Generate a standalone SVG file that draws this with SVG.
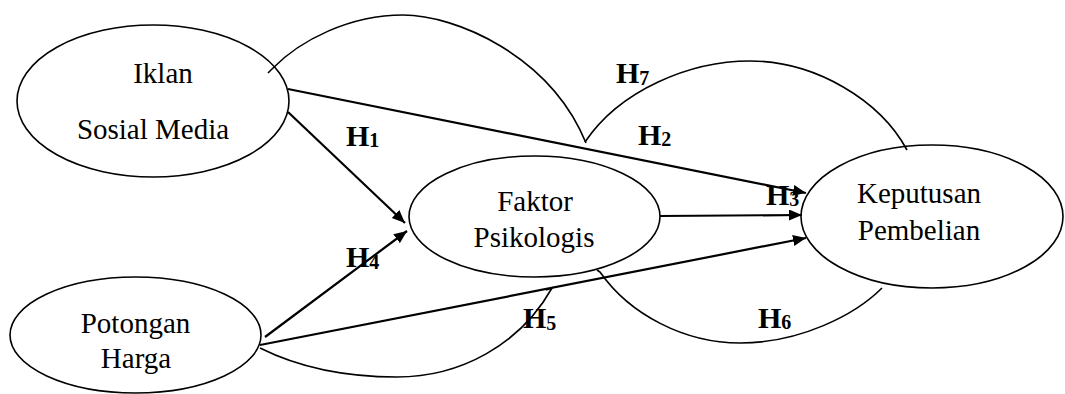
<svg xmlns="http://www.w3.org/2000/svg" width="1065" height="394" viewBox="0 0 1065 394">
<style>
.node{fill:#fff;stroke:#000;stroke-width:1.6}
.lbl{font-size:29px;fill:#000}
.arr{stroke:#000;stroke-width:2.2;fill:none;marker-end:url(#ah)}
.arc{stroke:#000;stroke-width:1.6;fill:none}
.h{font-size:30px;font-weight:bold;fill:#000}
.s{font-size:20px}
</style>
<defs>
<marker id="ah" markerUnits="userSpaceOnUse" markerWidth="14" markerHeight="12" refX="13" refY="5.5" orient="auto">
<path d="M0,0 L13,5.5 L0,11 z" fill="#000"/>
</marker>
</defs>
<rect width="1065" height="394" fill="#fff"/>
<g id="node-iklan">
<ellipse class="node" cx="153" cy="101" rx="136" ry="76"/>
<text class="lbl" font-family="'Liberation Serif', 'Times New Roman', Tinos, 'DejaVu Serif', serif" x="163" y="83" text-anchor="middle">Iklan</text>
<text class="lbl" font-family="'Liberation Serif', 'Times New Roman', Tinos, 'DejaVu Serif', serif" x="153" y="139" text-anchor="middle">Sosial Media</text>
</g>
<g id="node-faktor">
<ellipse class="node" cx="534.5" cy="216.5" rx="125.5" ry="60.5"/>
<text class="lbl" font-family="'Liberation Serif', 'Times New Roman', Tinos, 'DejaVu Serif', serif" x="535" y="211" text-anchor="middle">Faktor</text>
<text class="lbl" font-family="'Liberation Serif', 'Times New Roman', Tinos, 'DejaVu Serif', serif" x="534" y="247" text-anchor="middle">Psikologis</text>
</g>
<g id="node-keputusan">
<ellipse class="node" cx="932" cy="216.5" rx="131" ry="71.5"/>
<text class="lbl" font-family="'Liberation Serif', 'Times New Roman', Tinos, 'DejaVu Serif', serif" x="919" y="203" text-anchor="middle">Keputusan</text>
<text class="lbl" font-family="'Liberation Serif', 'Times New Roman', Tinos, 'DejaVu Serif', serif" x="919" y="240" text-anchor="middle">Pembelian</text>
</g>
<g id="node-potongan">
<ellipse class="node" cx="135.5" cy="335" rx="125.5" ry="58"/>
<text class="lbl" font-family="'Liberation Serif', 'Times New Roman', Tinos, 'DejaVu Serif', serif" x="135.5" y="333" text-anchor="middle">Potongan</text>
<text class="lbl" font-family="'Liberation Serif', 'Times New Roman', Tinos, 'DejaVu Serif', serif" x="136" y="368" text-anchor="middle">Harga</text>
</g>
<g id="connectors">
<line class="arr" x1="288" y1="112" x2="405" y2="223"/>
<line class="arr" x1="265" y1="337" x2="407" y2="231"/>
<line class="arr" x1="288" y1="89" x2="806" y2="193"/>
<line class="arr" x1="660" y1="216" x2="802" y2="215"/>
<line class="arr" x1="260" y1="345" x2="806" y2="238"/>
<path class="arc" d="M268,73 L272,69 C300,40 350,15 403,15 C455,15 550,55 586,143"/>
<path class="arc" d="M585,142 C620,90 690,61 750,61 C815,61 880,100 907,150"/>
<path class="arc" d="M260,348 C300,368 345,377 397,377 C460,377 520,345 552,288 L546,290"/>
<path class="arc" d="M597,270 L600,272 C630,315 685,343 740,343 C800,343 855,315 882,288"/>
</g>
<g id="labels">
<text class="h" font-family="'Liberation Serif', 'Times New Roman', Tinos, 'DejaVu Serif', serif" x="346" y="146">H<tspan class="s" dy="1">1</tspan></text>
<text class="h" font-family="'Liberation Serif', 'Times New Roman', Tinos, 'DejaVu Serif', serif" x="638" y="145">H<tspan class="s" dy="1">2</tspan></text>
<text class="h" font-family="'Liberation Serif', 'Times New Roman', Tinos, 'DejaVu Serif', serif" x="766" y="205">H<tspan class="s" dy="1">3</tspan></text>
<text class="h" font-family="'Liberation Serif', 'Times New Roman', Tinos, 'DejaVu Serif', serif" x="346" y="267">H<tspan class="s" dy="2">4</tspan></text>
<text class="h" font-family="'Liberation Serif', 'Times New Roman', Tinos, 'DejaVu Serif', serif" x="523" y="328">H<tspan class="s" dy="2">5</tspan></text>
<text class="h" font-family="'Liberation Serif', 'Times New Roman', Tinos, 'DejaVu Serif', serif" x="758" y="328">H<tspan class="s" dy="1">6</tspan></text>
<text class="h" font-family="'Liberation Serif', 'Times New Roman', Tinos, 'DejaVu Serif', serif" x="616" y="83">H<tspan class="s" dy="2">7</tspan></text>
</g>
</svg>
